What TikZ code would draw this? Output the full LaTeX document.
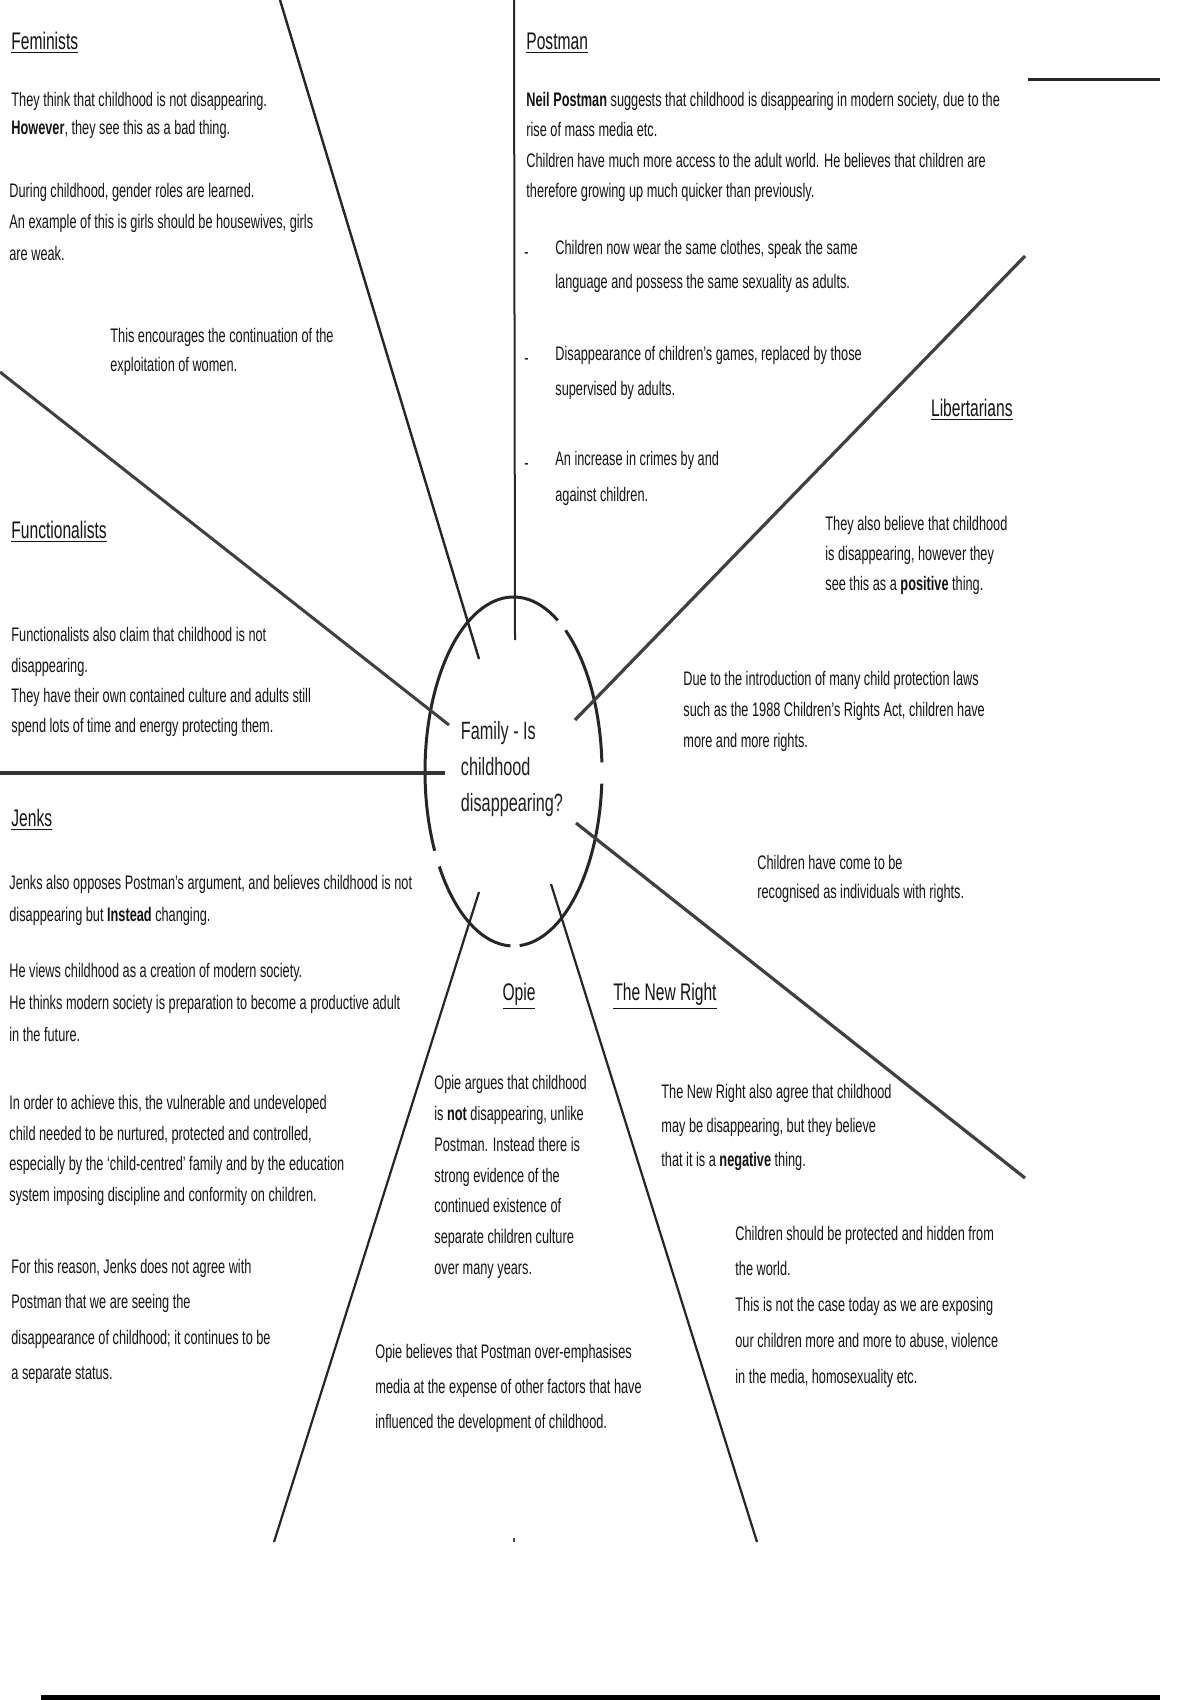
\documentclass[tikz,border=0pt]{standalone}
\usepackage{fontspec}
\setmainfont{Liberation Sans}[FakeStretch=0.65]
\usetikzlibrary{calc}
\tikzset{
    heading/.style={anchor=base west, inner sep=0pt, text=black!92, font=\fontsize{12}{14}\selectfont},
    para/.style={anchor=north west, inner sep=0pt, align=left, text=black!92,
                 font=\fontsize{9.8}{#1}\selectfont},
    para/.default=15pt,
    dashmark/.style={anchor=west, inner sep=0pt, text=black!92, font=\fontsize{9.8}{12}\selectfont},
    hubtext/.style={align=left, inner sep=0pt, text=black!88, font=\fontsize{12.5}{18}\selectfont},
    ring/.style={line width=1.5pt, black!85},
    spoke/.style={line width=1.2pt, black!85},
    heavy/.style={line width=1.6pt, black!75},
    rule/.style={line width=2pt, black!80},
}

\begin{document}
\begin{tikzpicture}[x=0.5pt, y=-0.5pt]

    \fill[white] (0,0) rectangle (1200,1700);
    \useasboundingbox (0,0) rectangle (1200,1700);

    % centre of the spider
    \node[hubtext] (hub) at (512,769) {Family - Is\\childhood\\disappearing?};
    \coordinate (ringC) at (513.5,771.5);
    \foreach \a/\b in {274/356, 3/54, 60/207, 213/268}
        \draw[ring] ([shift={(\a:44.25pt and 87.25pt)}]ringC)
            arc[start angle=\a, end angle=\b, x radius=44.25pt, y radius=87.25pt];

    % spoke ends
    \coordinate (femOut) at (280,0);     \coordinate (femIn) at (479,659);
    \coordinate (topOut) at (514,0);     \coordinate (topIn) at (515,640);
    \coordinate (libOut) at (1025,256);  \coordinate (libIn) at (575,720);
    \coordinate (funcOut) at (0,372);    \coordinate (funcIn) at (449,725);
    \coordinate (jenkOut) at (0,773);    \coordinate (jenkIn) at (445,773);
    \coordinate (nrIn) at (576,823);     \coordinate (nrOut) at (1025,1178);
    \coordinate (opLIn) at (479,892);    \coordinate (opLOut) at (274,1542);
    \coordinate (opRIn) at (551,884);    \coordinate (opROut) at (757,1542);

    \draw[spoke] (femOut) -- (femIn);
    \draw[spoke, line width=1pt] (topOut) -- (topIn);
    \draw[heavy] (libOut) -- (libIn);
    \draw[heavy, line width=1.5pt] (funcOut) -- (funcIn);
    \draw[rule] (jenkOut) -- (jenkIn);
    \draw[heavy] (nrIn) -- (nrOut);
    \draw[spoke, line width=1.1pt] (opLIn) -- (opLOut);
    \draw[spoke, line width=1.1pt] (opRIn) -- (opROut);

    % loose marks on the page
    \coordinate (markA) at (1028,80);  \coordinate (markB) at (1160,80);
    \draw[spoke, line width=1.5pt] (markA) -- (markB);
    \coordinate (dotA) at (514,1538);  \coordinate (dotB) at (514,1542);
    \draw[line width=0.6pt, black!70] (dotA) -- (dotB);
    \coordinate (footA) at (41,1697);  \coordinate (footB) at (1160,1697);
    \draw[line width=2.5pt, black] (footA) -- (footB);

    % Feminists
    \node[heading] (femHead) at (11,49.5) {\underline{Feminists}};
    \node[para=14pt] (fem1) at (11,92) {They think that childhood is not disappearing.\\\textbf{However}, they see this as a bad thing.};
    \node[para=15.7pt] (fem2) at (9,183) {During childhood, gender roles are learned.\\An example of this is girls should be housewives, girls\\are weak.};
    \node[para=14.5pt] (fem3) at (110,328) {This encourages the continuation of the\\exploitation of women.};

    % Postman
    \node[heading] (postHead) at (526,49.5) {\underline{Postman}};
    \node[para=15.2pt] (post1) at (526,92) {\textbf{Neil Postman} suggests that childhood is disappearing in modern society, due to the\\rise of mass media etc.\\Children have much more access to the adult world. He believes that children are\\therefore growing up much quicker than previously.};
    \node[dashmark] (dash1) at (524,256) {-};
    \node[para=17pt] (post2) at (555,240) {Children now wear the same clothes, speak the same\\language and possess the same sexuality as adults.};
    \node[dashmark] (dash2) at (524,362) {-};
    \node[para=17.5pt] (post3) at (555,346) {Disappearance of children’s games, replaced by those\\supervised by adults.};
    \node[dashmark] (dash3) at (524,466.5) {-};
    \node[para=18.2pt] (post4) at (555,450.5) {An increase in crimes by and\\against children.};

    % Libertarians
    \node[heading, anchor=base east] (libHead) at (1013,416) {\underline{Libertarians}};
    \node[para=15pt] (lib1) at (825,515.5) {They also believe that childhood\\is disappearing, however they\\see this as a \textbf{positive} thing.};
    \node[para=15.6pt] (lib2) at (683,670.5) {Due to the introduction of many child protection laws\\such as the 1988 Children’s Rights Act, children have\\more and more rights.};
    \node[para=14.5pt] (lib3) at (757,855) {Children have come to be\\recognised as individuals with rights.};

    % Functionalists
    \node[heading] (funcHead) at (11,538.5) {\underline{Functionalists}};
    \node[para=15.2pt] (func1) at (11,627) {Functionalists also claim that childhood is not\\disappearing.\\They have their own contained culture and adults still\\spend lots of time and energy protecting them.};

    % Jenks
    \node[heading] (jenkHead) at (11,826.5) {\underline{Jenks}};
    \node[para=16pt] (jenk1) at (9,875) {Jenks also opposes Postman’s argument, and believes childhood is not\\disappearing but \textbf{Instead} changing.};
    \node[para=16pt] (jenk2) at (9,963) {He views childhood as a creation of modern society.\\He thinks modern society is preparation to become a productive adult\\in the future.};
    \node[para=15.3pt] (jenk3) at (9,1095) {In order to achieve this, the vulnerable and undeveloped\\child needed to be nurtured, protected and controlled,\\especially by the ‘child-centred’ family and by the education\\system imposing discipline and conformity on children.};
    \node[para=17.6pt] (jenk4) at (11,1259) {For this reason, Jenks does not agree with\\Postman that we are seeing the\\disappearance of childhood; it continues to be\\a separate status.};

    % Opie
    \node[heading, anchor=base] (opieHead) at (519,1000.5) {\underline{Opie}};
    \node[para=15.4pt] (opie1) at (434,1075) {Opie argues that childhood\\is \textbf{not} disappearing, unlike\\Postman. Instead there is\\strong evidence of the\\continued existence of\\separate children culture\\over many years.};
    \node[para=17.5pt] (opie2) at (375,1344) {Opie believes that Postman over-emphasises\\media at the expense of other factors that have\\influenced the development of childhood.};

    % The New Right
    \node[heading] (nrHead) at (613,1000.5) {\underline{The New Right}};
    \node[para=17.1pt] (nr1) at (661,1083.5) {The New Right also agree that childhood\\may be disappearing, but they believe\\that it is a \textbf{negative} thing.};
    \node[para=17.9pt] (nr2) at (735,1225.5) {Children should be protected and hidden from\\the world.\\This is not the case today as we are exposing\\our children more and more to abuse, violence\\in the media, homosexuality etc.};

\end{tikzpicture}
\end{document}
